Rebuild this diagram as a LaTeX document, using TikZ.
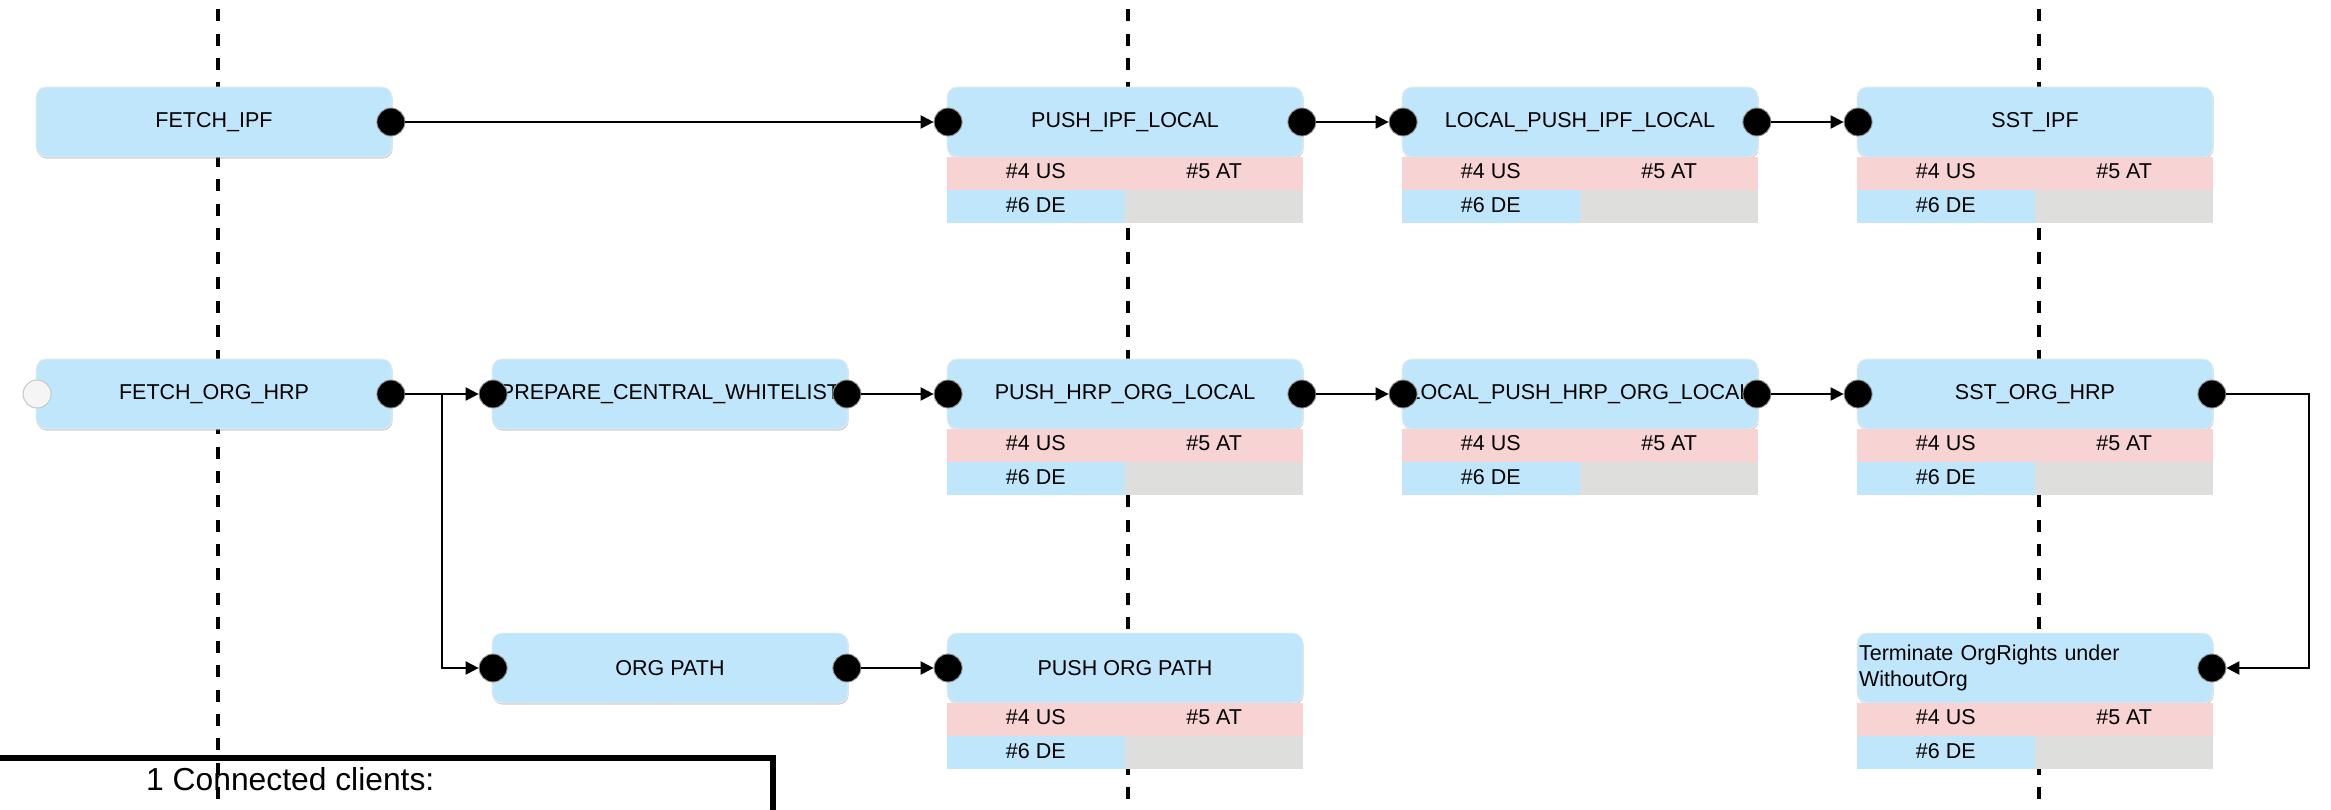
\documentclass[tikz,border=0pt]{standalone}
\usepackage{fontspec}
\setmainfont{Liberation Sans}
\usetikzlibrary{arrows.meta,calc,shadows}
\definecolor{boxblue}{RGB}{191,230,250}
\definecolor{cpink}{RGB}{248,211,211}
\definecolor{cgray}{RGB}{222,222,221}
\definecolor{portedge}{RGB}{150,150,150}
\tikzset{
  proc/.style={rectangle, rounded corners=10pt, minimum width=356pt, minimum height=70pt,
    inner sep=2pt, fill=boxblue, draw=black!7, line width=0.8pt,
    drop shadow={shadow xshift=0.6pt, shadow yshift=-1.6pt, opacity=0.35, fill=black!55},
    font=\fontsize{21.5}{26}\selectfont},
  port/.style={circle, fill=black, draw=portedge, line width=0.9pt, minimum size=28pt, inner sep=0pt},
  portin/.style={circle, fill=black!4, draw=black!22, line width=1pt, minimum size=28pt, inner sep=0pt},
  conn/.style={line width=2pt, -{Triangle[length=13pt,width=13pt]}},
  cell/.style={font=\fontsize{21.5}{26}\selectfont, inner sep=0pt},
  lane/.style={line width=3.8pt, dash pattern=on 12pt off 12.3pt},
}
\newcommand{\mktable}[1]{%
  \fill[cpink] (#1.south west) rectangle ([yshift=-33pt]#1.south east);
  \fill[boxblue] ([yshift=-33pt]#1.south west) rectangle ([yshift=-66pt]#1.south);
  \fill[cgray] ([yshift=-33pt]#1.south) rectangle ([yshift=-66pt]#1.south east);
  \node[cell] (#1-us) at ([yshift=-14pt]$(#1.south west)!0.25!(#1.south east)$) {\#4 US};
  \node[cell] (#1-at) at ([yshift=-14pt]$(#1.south west)!0.75!(#1.south east)$) {\#5 AT};
  \node[cell] (#1-de) at ([yshift=-47.5pt]$(#1.south west)!0.25!(#1.south east)$) {\#6 DE};
}
\begin{document}
\begin{tikzpicture}[x=1pt,y=-1pt]
\useasboundingbox (0,0) rectangle (2331,809);
% lanes
\foreach \lx in {218,1128,2039}{
  \draw[lane] (\lx,-15) -- (\lx,830);
}
% boxes
\node[proc] (fi)    at (214,122) {FETCH\_IPF};
\node[proc] (pil)   at (1125,122) {PUSH\_IPF\_LOCAL};
\node[proc] (lpil)  at (1580,122) {LOCAL\_PUSH\_IPF\_LOCAL};
\node[proc] (sip)   at (2035,122) {SST\_IPF};
\node[proc] (foh)   at (214,394) {FETCH\_ORG\_HRP};
\node[proc] (pcw)   at (670,394) {PREPARE\_CENTRAL\_WHITELIST};
\node[proc] (phol)  at (1125,394) {PUSH\_HRP\_ORG\_LOCAL};
\node[proc] (lphol) at (1580,394) {LOCAL\_PUSH\_HRP\_ORG\_LOCAL};
\node[proc] (soh)   at (2035,394) {SST\_ORG\_HRP};
\node[proc] (op)    at (670,668) {ORG PATH};
\node[proc] (pop)   at (1125,668) {PUSH ORG PATH};
\node[proc, align=left, text width=352pt] (tm) at (2035,668) {Terminate OrgRights under\\WithoutOrg};
% tables
\mktable{pil}
\mktable{lpil}
\mktable{sip}
\mktable{phol}
\mktable{lphol}
\mktable{soh}
\mktable{pop}
\mktable{tm}
% ports
\node[port] (fi-out) at ([xshift=-1.5pt]fi.east) {};
\node[port] (pil-in) at ([xshift=1.5pt]pil.west) {};
\node[port] (pil-out) at ([xshift=-1.5pt]pil.east) {};
\node[port] (lpil-in) at ([xshift=1.5pt]lpil.west) {};
\node[port] (lpil-out) at ([xshift=-1.5pt]lpil.east) {};
\node[port] (sip-in) at ([xshift=1.5pt]sip.west) {};
\node[portin] (foh-in) at ([xshift=1.5pt]foh.west) {};
\node[port] (foh-out) at ([xshift=-1.5pt]foh.east) {};
\node[port] (pcw-in) at ([xshift=1.5pt]pcw.west) {};
\node[port] (pcw-out) at ([xshift=-1.5pt]pcw.east) {};
\node[port] (phol-in) at ([xshift=1.5pt]phol.west) {};
\node[port] (phol-out) at ([xshift=-1.5pt]phol.east) {};
\node[port] (lphol-in) at ([xshift=1.5pt]lphol.west) {};
\node[port] (lphol-out) at ([xshift=-1.5pt]lphol.east) {};
\node[port] (soh-in) at ([xshift=1.5pt]soh.west) {};
\node[port] (soh-out) at ([xshift=-1.5pt]soh.east) {};
\node[port] (op-in) at ([xshift=1.5pt]op.west) {};
\node[port] (op-out) at ([xshift=-1.5pt]op.east) {};
\node[port] (pop-in) at ([xshift=1.5pt]pop.west) {};
\node[port] (tm-out) at ([xshift=-1.5pt]tm.east) {};
% connectors
\draw[conn] (fi-out) -- (pil-in);
\draw[conn] (pil-out) -- (lpil-in);
\draw[conn] (lpil-out) -- (sip-in);
\draw[conn] (foh-out) -- (pcw-in);
\coordinate (br) at (442,394);
\draw[conn] (br) |- (op-in);
\draw[conn] (pcw-out) -- (phol-in);
\draw[conn] (phol-out) -- (lphol-in);
\draw[conn] (lphol-out) -- (soh-in);
\draw[conn] (op-out) -- (pop-in);
\coordinate (loop) at (2309,394);
\draw[conn] (soh-out) -- (loop) |- (tm-out);
% clients box
\draw[line width=5.5pt] (-20,758) coordinate (cl-a) -| (773,840) coordinate (cl-b);
\node[anchor=base west, font=\fontsize{31.8}{36}\selectfont, inner sep=0pt] (clients) at (146,790) {1 Connected clients:};
\end{tikzpicture}
\end{document}
